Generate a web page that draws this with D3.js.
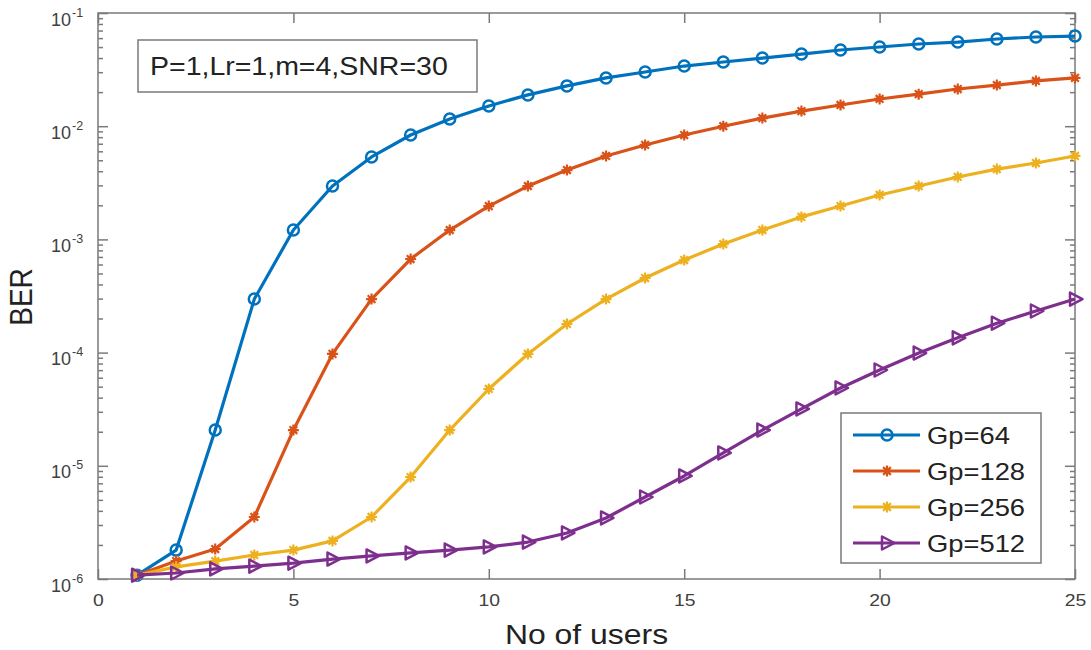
<!DOCTYPE html>
<html>
<head>
<meta charset="utf-8">
<script src="https://cdn.jsdelivr.net/npm/d3@7"></script>
<style>
  html, body { margin: 0; padding: 0; background: #fff; }
  svg { display: block; font-family: "Liberation Sans", Arial, sans-serif; }
</style>
</head>
<body>
<svg id="chart" width="1091" height="650"></svg>
<script>
// ---------------- data ----------------
const users = [1,2,3,4,5,6,7,8,9,10,11,12,13,14,15,16,17,18,19,20,21,22,23,24,25];
const gp64  = [1.08e-6,1.8e-6,2.07e-5,2.97e-4,1.21e-3,2.96e-3,5.35e-3,8.36e-3,1.16e-2,1.51e-2,1.89e-2,2.27e-2,2.67e-2,3.01e-2,3.40e-2,3.69e-2,4.0e-2,4.34e-2,4.71e-2,5.01e-2,5.32e-2,5.54e-2,5.89e-2,6.14e-2,6.26e-2];
const gp128 = [1.08e-6,1.44e-6,1.84e-6,3.53e-6,2.07e-5,9.73e-5,2.97e-4,6.71e-4,1.21e-3,1.97e-3,2.96e-3,4.1e-3,5.46e-3,6.83e-3,8.36e-3,1.0e-2,1.18e-2,1.36e-2,1.54e-2,1.74e-2,1.92e-2,2.13e-2,2.31e-2,2.51e-2,2.67e-2];
const gp256 = [1.08e-6,1.28e-6,1.44e-6,1.63e-6,1.80e-6,2.17e-6,3.53e-6,7.96e-6,2.07e-5,4.77e-5,9.73e-5,1.79e-4,2.97e-4,4.56e-4,6.57e-4,9.1e-4,1.21e-3,1.58e-3,1.97e-3,2.47e-3,2.96e-3,3.56e-3,4.18e-3,4.73e-3,5.46e-3];
const gp512 = [1.08e-6,1.13e-6,1.23e-6,1.30e-6,1.38e-6,1.50e-6,1.60e-6,1.70e-6,1.80e-6,1.92e-6,2.12e-6,2.55e-6,3.46e-6,5.3e-6,8.13e-6,1.30e-5,2.07e-5,3.18e-5,4.87e-5,7.02e-5,9.91e-5,1.35e-4,1.82e-4,2.33e-4,2.97e-4];
const seriesNames = ["Gp=64","Gp=128","Gp=256","Gp=512"];
const xTicks = [0,5,10,15,20,25];
const yMajorTicks = [1e-6,1e-5,1e-4,1e-3,1e-2,1e-1];
const yTickExponents = ["-6","-5","-4","-3","-2","-1"];
const xLabel = "No of users";
const yLabel = "BER";
const noteText = "P=1,Lr=1,m=4,SNR=30";

// ---------------- layout ----------------
const svg = d3.select("#chart");
const L = 98, R = 1075, T = 13, B = 579;
const axisColor = "#7a7a7a", tickTextColor = "#404040", labelColor = "#222";
const colors = ["#0072BD","#D95319","#EDB120","#7E2F8E"];
const markers = ["circle","asterisk","asterisk","triangle"];
const stretch = 1.14;

const x = d3.scaleLinear().domain([0,25]).range([L,R]);
const y = d3.scaleLog().domain([1e-6,1e-1]).range([B,T]);

// minor ticks
const yMinor = [];
for (let e = -6; e < -1; e++) for (let k = 2; k <= 9; k++) yMinor.push(k * Math.pow(10, e));

// plot box
svg.append("rect").attr("x", L).attr("y", T).attr("width", R-L).attr("height", B-T)
   .attr("fill", "#fff").attr("stroke", axisColor).attr("stroke-width", 1.5);

function styleAxis(g) {
  g.select(".domain").remove();
  g.selectAll(".tick line").attr("stroke", axisColor).attr("stroke-width", 1.5);
}

// bottom axis
svg.append("g").attr("transform", `translate(0,${B})`)
  .call(d3.axisBottom(x).tickValues(xTicks).tickSizeInner(-10).tickSizeOuter(0).tickPadding(15).tickFormat(d3.format("d")))
  .call(styleAxis)
  .call(g => g.selectAll(".tick text").attr("fill", tickTextColor)
      .attr("font-size", 17).attr("font-family", "Liberation Sans, Arial, sans-serif")
      .attr("transform", `scale(${stretch},1)`));
// top axis
svg.append("g").attr("transform", `translate(0,${T})`)
  .call(d3.axisTop(x).tickValues(xTicks).tickSizeInner(-10).tickSizeOuter(0).tickFormat(""))
  .call(styleAxis);

// left axis major
svg.append("g").attr("transform", `translate(${L},0)`)
  .call(d3.axisLeft(y).tickValues(yMajorTicks).tickSizeInner(-10).tickSizeOuter(0).tickPadding(12).tickFormat(""))
  .call(styleAxis)
  .call(g => {
    g.selectAll(".tick text").remove();
    g.selectAll(".tick").each(function(d) {
      d3.select(this).append("text")
        .attr("x", -27).attr("y", 12)
        .attr("text-anchor", "end")
        .attr("fill", tickTextColor)
        .attr("font-size", 18)
        .attr("font-family", "Liberation Sans, Arial, sans-serif")
        .text("10");
      d3.select(this).append("text")
        .attr("x", -26).attr("y", 3)
        .attr("text-anchor", "start")
        .attr("fill", tickTextColor)
        .attr("font-size", 12.5)
        .attr("font-family", "Liberation Sans, Arial, sans-serif")
        .text(yTickExponents[yMajorTicks.indexOf(d)]);
    });
  });
// left minor
svg.append("g").attr("transform", `translate(${L},0)`)
  .call(d3.axisLeft(y).tickValues(yMinor).tickSizeInner(-5).tickSizeOuter(0).tickFormat(""))
  .call(styleAxis);
// right major/minor
svg.append("g").attr("transform", `translate(${R},0)`)
  .call(d3.axisRight(y).tickValues(yMajorTicks).tickSizeInner(-10).tickSizeOuter(0).tickFormat(""))
  .call(styleAxis);
svg.append("g").attr("transform", `translate(${R},0)`)
  .call(d3.axisRight(y).tickValues(yMinor).tickSizeInner(-5).tickSizeOuter(0).tickFormat(""))
  .call(styleAxis);

// axis labels
svg.append("text").attr("transform", `translate(${(L+R)/2},644) scale(${stretch},1)`)
  .attr("text-anchor", "middle").attr("font-size", 28).attr("fill", labelColor).text(xLabel);
svg.append("text").attr("transform", `translate(32,297) rotate(-90) scale(1,${stretch})`)
  .attr("text-anchor", "middle").attr("font-size", 28).attr("fill", labelColor).text(yLabel);

// ---------------- markers ----------------
function drawMarker(g, type, color) {
  if (type === "circle") {
    g.append("circle").attr("r", 5.5).attr("fill", "none").attr("stroke", color).attr("stroke-width", 2.5);
  } else if (type === "triangle") {
    g.append("path").attr("d", "M-5,-6.5L7.5,0L-5,6.5Z").attr("fill", "none").attr("stroke", color).attr("stroke-width", 2.5).attr("stroke-linejoin", "round");
  } else {
    const s = 5.5, d = s * 0.7;
    g.append("path").attr("d", `M${-s},0L${s},0M0,${-s}L0,${s}M${-d},${-d}L${d},${d}M${-d},${d}L${d},${-d}`)
      .attr("stroke", color).attr("stroke-width", 2.2).attr("fill", "none");
    g.append("circle").attr("r", 3.2).attr("fill", color);
  }
}

const allSeries = [gp64, gp128, gp256, gp512];
const line = d3.line().x((d, i) => x(users[i])).y(d => y(d));
allSeries.forEach((vals, si) => {
  const g = svg.append("g");
  g.append("path").datum(vals).attr("d", line).attr("fill", "none")
    .attr("stroke", colors[si]).attr("stroke-width", 3.2).attr("stroke-linejoin", "round");
  vals.forEach((v, i) => {
    const m = g.append("g").attr("transform", `translate(${x(users[i])},${y(v)})`);
    drawMarker(m, markers[si], colors[si]);
  });
});

// ---------------- annotation ----------------
svg.append("rect").attr("x", 138).attr("y", 40).attr("width", 339).attr("height", 52)
  .attr("fill", "#fff").attr("stroke", axisColor).attr("stroke-width", 1.5);
svg.append("text").attr("transform", `translate(150,75) scale(${stretch},1)`)
  .attr("font-size", 25).attr("fill", labelColor).text(noteText);

// ---------------- legend ----------------
const lg = svg.append("g");
lg.append("rect").attr("x", 841).attr("y", 413).attr("width", 200).attr("height", 150)
  .attr("fill", "#fff").attr("stroke", axisColor).attr("stroke-width", 1.5);
const legendY = d3.scalePoint().domain(seriesNames).range([435, 543]);
seriesNames.forEach((name, si) => {
  const cy = legendY(name);
  lg.append("line").attr("x1", 853).attr("x2", 920).attr("y1", cy).attr("y2", cy)
    .attr("stroke", colors[si]).attr("stroke-width", 3.2);
  const m = lg.append("g").attr("transform", `translate(887,${cy})`);
  drawMarker(m, markers[si], colors[si]);
  lg.append("text").attr("transform", `translate(927,${cy + 9}) scale(${stretch},1)`)
    .attr("font-size", 24).attr("fill", labelColor).text(name);
});
</script>
</body>
</html>
